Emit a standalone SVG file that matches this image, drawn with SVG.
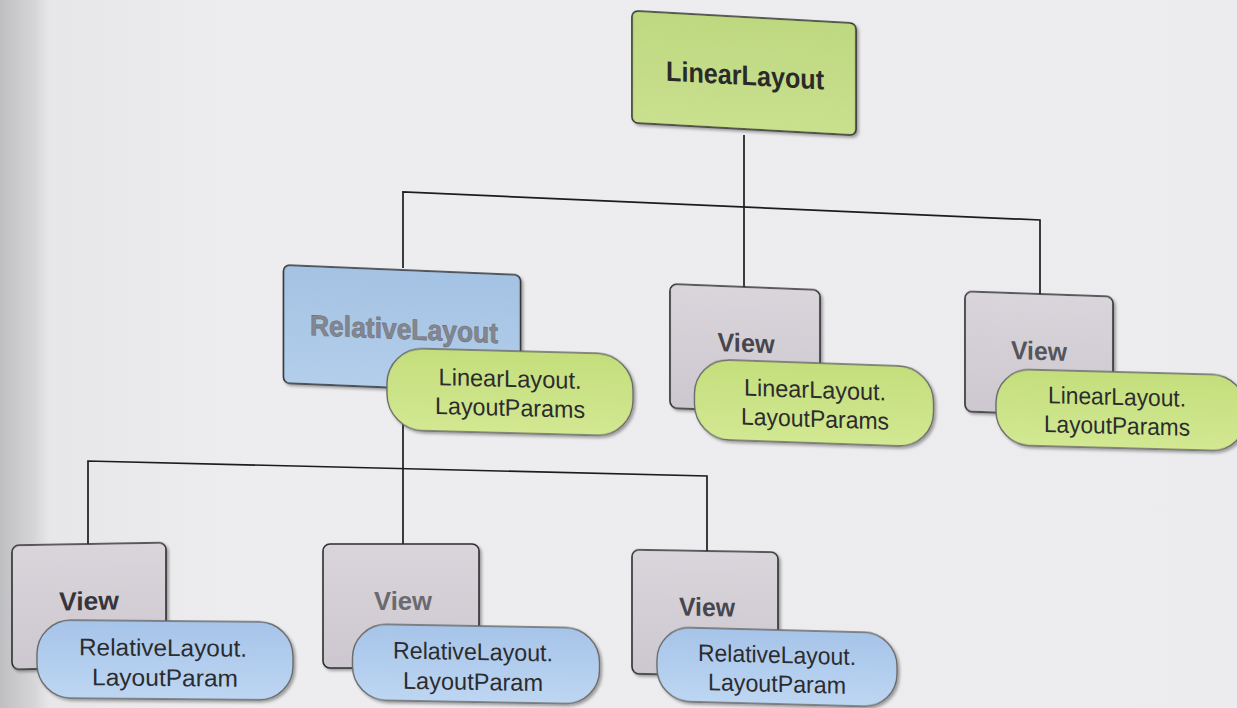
<svg xmlns="http://www.w3.org/2000/svg" width="1237" height="708" viewBox="0 0 1237 708">
  <defs>
    <linearGradient id="paper" x1="0" y1="0" x2="1" y2="0">
      <stop offset="0" stop-color="#bfbfc1"/>
      <stop offset="0.028" stop-color="#d6d6d8"/>
      <stop offset="0.04" stop-color="#e7e7e9"/>
      <stop offset="0.2" stop-color="#ededef"/>
      <stop offset="1" stop-color="#ececee"/>
    </linearGradient>
    <linearGradient id="gBox" x1="0" y1="0" x2="0" y2="1">
      <stop offset="0" stop-color="#bed880"/>
      <stop offset="1" stop-color="#c9e08e"/>
    </linearGradient>
    <linearGradient id="gPill" x1="0" y1="0" x2="0" y2="1">
      <stop offset="0" stop-color="#c4de7c"/>
      <stop offset="1" stop-color="#d2e892"/>
    </linearGradient>
    <linearGradient id="bBox" x1="0" y1="0" x2="0" y2="1">
      <stop offset="0" stop-color="#a4c2e3"/>
      <stop offset="1" stop-color="#b3ceeb"/>
    </linearGradient>
    <linearGradient id="bPill" x1="0" y1="0" x2="0" y2="1">
      <stop offset="0" stop-color="#a6c4e9"/>
      <stop offset="1" stop-color="#bdd6f2"/>
    </linearGradient>
    <linearGradient id="vBox" x1="0" y1="0" x2="0" y2="1">
      <stop offset="0" stop-color="#d9d5db"/>
      <stop offset="1" stop-color="#cdc8cf"/>
    </linearGradient>
    <filter id="shadow" x="-10%" y="-10%" width="125%" height="130%">
      <feDropShadow dx="2" dy="2" stdDeviation="1.6" flood-color="#000" flood-opacity="0.35"/>
    </filter>
  </defs>
  <style>
    .link { fill: none; stroke: #1c1c1c; stroke-width: 1.7; }
    .box { stroke: #2e2e30; stroke-width: 1.6; filter: url(#shadow); }
    .pill { stroke: #6a6a6a; stroke-width: 1.4; filter: url(#shadow); }
    .title { font-family: "Liberation Sans", Arial, sans-serif; font-weight: bold; text-anchor: middle; }
    .param { font-family: "Liberation Sans", Arial, sans-serif; font-size: 24px; fill: #2c2c2e; text-anchor: middle; }
  </style>

  <rect width="1237" height="708" fill="url(#paper)"/>

  <g id="connectors">
    <path class="link" d="M744,135 V207"/>
    <path class="link" d="M403,268 V192 L1040,220 V298"/>
    <path class="link" d="M744,207 V288"/>
    <path class="link" d="M403,380 V467"/>
    <path class="link" d="M88,546 V461 L707,476 V552"/>
    <path class="link" d="M403,467 V545"/>
  </g>

  <g id="linear-layout" transform="translate(744,73) skewY(3.2)">
    <rect class="box" x="-112" y="-56" width="224" height="112" rx="6" fill="url(#gBox)"/>
    <text class="title" x="1" y="12" font-size="28" fill="#2a2a2a" textLength="158" lengthAdjust="spacingAndGlyphs">LinearLayout</text>
  </g>

  <g id="relative-layout" transform="translate(402,329) skewY(2.4)">
    <rect class="box" x="-118.5" y="-59" width="237" height="118" rx="6" fill="url(#bBox)"/>
    <text class="title" x="2" y="10" font-size="29" fill="#84878f" stroke="#6e7078" stroke-width="0.6" textLength="188" lengthAdjust="spacingAndGlyphs">RelativeLayout</text>
  </g>
  <g id="relative-layout-params" transform="translate(510,392) skewY(1.5)">
    <rect class="pill" x="-123" y="-41" width="246" height="82" rx="36" fill="url(#gPill)"/>
    <text class="param" x="0" y="-5" textLength="143" lengthAdjust="spacingAndGlyphs">LinearLayout.</text>
    <text class="param" x="0" y="24" textLength="150" lengthAdjust="spacingAndGlyphs">LayoutParams</text>
  </g>

  <g id="view-middle" transform="translate(745,349) skewY(2.3)">
    <rect class="box" x="-75" y="-62" width="150" height="124" rx="7" fill="url(#vBox)"/>
    <text class="title" x="1" y="3" font-size="26" fill="#46464c" textLength="57" lengthAdjust="spacingAndGlyphs">View</text>
  </g>
  <g id="view-middle-params" transform="translate(814,403) skewY(2)">
    <rect class="pill" x="-119.5" y="-40" width="239" height="80" rx="35" fill="url(#gPill)"/>
    <text class="param" x="1" y="-5" textLength="142" lengthAdjust="spacingAndGlyphs">LinearLayout.</text>
    <text class="param" x="1" y="24" textLength="148" lengthAdjust="spacingAndGlyphs">LayoutParams</text>
  </g>

  <g id="view-right" transform="translate(1039,354) skewY(2)">
    <rect class="box" x="-74" y="-60" width="148" height="120" rx="7" fill="url(#vBox)"/>
    <text class="title" x="0" y="6" font-size="26" fill="#55555b" textLength="56" lengthAdjust="spacingAndGlyphs">View</text>
  </g>
  <g id="view-right-params" transform="translate(1118,410) skewY(1.5)">
    <rect class="pill" x="-122" y="-38" width="250" height="76" rx="34" fill="url(#gPill)"/>
    <text class="param" x="-1" y="-5" textLength="138" lengthAdjust="spacingAndGlyphs">LinearLayout.</text>
    <text class="param" x="-1" y="24" textLength="146" lengthAdjust="spacingAndGlyphs">LayoutParams</text>
  </g>

  <g id="view-bottom-1" transform="translate(89,606) skewY(-1)">
    <rect class="box" x="-77" y="-62" width="154" height="124" rx="7" fill="url(#vBox)"/>
    <text class="title" x="0" y="4" font-size="26" fill="#35353a" textLength="60" lengthAdjust="spacingAndGlyphs">View</text>
  </g>
  <g id="view-bottom-1-params" transform="translate(165,660) skewY(0.5)">
    <rect class="pill" x="-128" y="-39" width="256" height="78" rx="34" fill="url(#bPill)"/>
    <text class="param" x="-2" y="-4" textLength="168" lengthAdjust="spacingAndGlyphs">RelativeLayout.</text>
    <text class="param" x="0" y="26" textLength="146" lengthAdjust="spacingAndGlyphs">LayoutParam</text>
  </g>

  <g id="view-bottom-2" transform="translate(401,606) skewY(0)">
    <rect class="box" x="-78" y="-62" width="156" height="124" rx="7" fill="url(#vBox)"/>
    <text class="title" x="2" y="4" font-size="26" fill="#6a6a70" textLength="58" lengthAdjust="spacingAndGlyphs">View</text>
  </g>
  <g id="view-bottom-2-params" transform="translate(476,664) skewY(1)">
    <rect class="pill" x="-123.5" y="-38" width="247" height="76" rx="34" fill="url(#bPill)"/>
    <text class="param" x="-3" y="-4" textLength="160" lengthAdjust="spacingAndGlyphs">RelativeLayout.</text>
    <text class="param" x="-3" y="26" textLength="140" lengthAdjust="spacingAndGlyphs">LayoutParam</text>
  </g>

  <g id="view-bottom-3" transform="translate(705,613) skewY(1)">
    <rect class="box" x="-73" y="-62" width="146" height="124" rx="7" fill="url(#vBox)"/>
    <text class="title" x="2" y="3" font-size="26" fill="#46464c" textLength="56" lengthAdjust="spacingAndGlyphs">View</text>
  </g>
  <g id="view-bottom-3-params" transform="translate(777,667) skewY(1.5)">
    <rect class="pill" x="-120" y="-37" width="240" height="74" rx="33" fill="url(#bPill)"/>
    <text class="param" x="0" y="-4" textLength="158" lengthAdjust="spacingAndGlyphs">RelativeLayout.</text>
    <text class="param" x="0" y="25" textLength="138" lengthAdjust="spacingAndGlyphs">LayoutParam</text>
  </g>
</svg>
